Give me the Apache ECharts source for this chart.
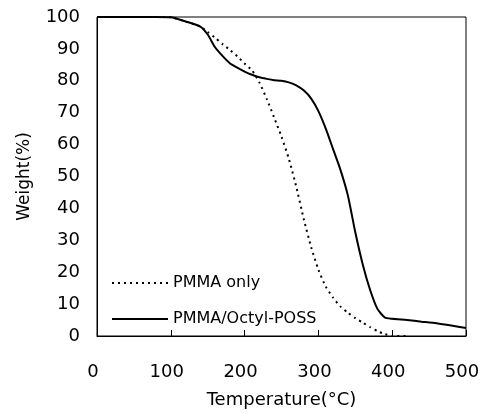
<!DOCTYPE html>
<html>
<head>
<meta charset="utf-8">
<script src="https://cdn.jsdelivr.net/npm/echarts@6/dist/echarts.min.js"></script>
<style>html,body{margin:0;padding:0;background:#fff}#c{width:481px;height:414px}</style>
</head>
<body>
<div id="c"></div>
<script>
var temps = [0, 80, 100, 120, 140, 150, 160, 170, 180, 190, 200, 210, 220, 230, 240, 250, 260, 270, 280, 290, 300, 310, 320, 330, 340, 350, 360, 370, 380, 390, 400, 420, 440, 460, 480, 500];
var pmmaOnly = [100, 100, 99.9, 98.6, 97, 95.3, 93.5, 91.5, 89.7, 87.7, 85.4, 83.3, 79.5, 74.3, 68.5, 62.5, 55.5, 46.8, 36.8, 28, 20.8, 15.5, 12, 9.2, 7.3, 5.6, 4.2, 2.8, 1.5, 0.6, 0, 0, null, null, null, null];
var pmmaPoss = [100, 100, 99.9, 98.6, 97, 94.5, 90.5, 87.8, 85.5, 84.1, 82.9, 81.9, 81.1, 80.6, 80.2, 80, 79.5, 78.6, 77, 74.5, 70.5, 65, 58.5, 52, 44, 32.5, 22.5, 14.5, 8.5, 5.8, 5.4, 5.0, 4.5, 4.0, 3.3, 2.5];
var xTicks = [0, 100, 200, 300, 400, 500];
var yTicks = [0, 10, 20, 30, 40, 50, 60, 70, 80, 90, 100];
var seriesNames = ['PMMA only', 'PMMA/Octyl-POSS'];

function pairs(xs, ys) {
  var out = [];
  for (var i = 0; i < xs.length; i++) if (ys[i] !== null) out.push([xs[i], ys[i]]);
  return out;
}

var font = '"DejaVu Sans", sans-serif';
var chart = echarts.init(document.getElementById('c'));
chart.setOption({
  animation: false,
  backgroundColor: '#fff',
  grid: { left: 97, right: 15, top: 17, bottom: 78, show: true, borderColor: '#000', borderWidth: 1, backgroundColor: 'transparent', containLabel: false, outerBoundsMode: 'none' },
  legend: {
    orient: 'vertical', left: 106, top: 270, itemWidth: 56, itemHeight: 10, itemGap: 20,
    itemStyle: { opacity: 0 },
    textStyle: { fontFamily: font, fontSize: 16, color: '#000' },
    data: seriesNames
  },
  xAxis: {
    type: 'value', min: 0, max: 500, interval: 100,
    name: 'Temperature(\u00b0C)', nameLocation: 'middle', nameGap: 55,
    nameTextStyle: { fontFamily: font, fontSize: 18, color: '#000' },
    axisLine: { lineStyle: { color: '#000', width: 1 } },
    axisTick: { inside: true, length: 6, lineStyle: { color: '#000' } },
    axisLabel: { margin: 27, padding: [0, 8, 0, 0], fontFamily: font, fontSize: 18, color: '#000',
      formatter: function (v) { return xTicks.indexOf(v) >= 0 ? String(v) : ''; } },
    splitLine: { show: false }
  },
  yAxis: {
    type: 'value', min: 0, max: 100, interval: 10,
    name: 'Weight(%)', nameLocation: 'middle', nameGap: 64, nameRotate: 90,
    nameTextStyle: { fontFamily: font, fontSize: 17, color: '#000' },
    axisLine: { show: true, lineStyle: { color: '#000', width: 1 } },
    axisTick: { show: false },
    axisLabel: { margin: 17, fontFamily: font, fontSize: 18, color: '#000',
      formatter: function (v) { return yTicks.indexOf(v) >= 0 ? String(v) : ''; } },
    splitLine: { show: false }
  },
  series: [
    { name: seriesNames[0], type: 'line', data: pairs(temps, pmmaOnly), symbol: 'none', smooth: 0.2,
      lineStyle: { color: '#000', width: 2, type: [2, 4] }, itemStyle: { color: '#000' } },
    { name: seriesNames[1], type: 'line', data: pairs(temps, pmmaPoss), symbol: 'none', smooth: 0.2,
      lineStyle: { color: '#000', width: 2, type: 'solid' }, itemStyle: { color: '#000' } }
  ]
});
</script>
</body>
</html>
